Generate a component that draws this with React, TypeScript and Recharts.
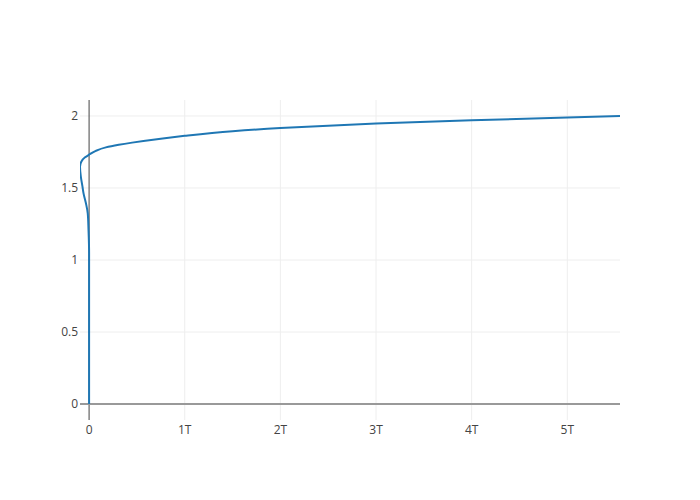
import React from 'react';
import { LineChart, Line, XAxis, YAxis, ReferenceLine } from 'recharts';

// curve points, in path order (x in trillions); y rises along the whole path
const xValues = [
  0, 0, 0, 0, -0.006, -0.014, -0.033, -0.058, -0.069, -0.086, -0.095, -0.08,
  -0.042, 0, 0.07, 0.175, 0.31, 0.45, 0.77, 1.0, 1.5, 2.0, 3.0, 4.0, 5.0,
  5.551,
];
const yValues = [
  0, 0.4, 0.8, 1.05, 1.208, 1.324, 1.394, 1.463, 1.509, 1.578, 1.648, 1.684,
  1.713, 1.731, 1.758, 1.782, 1.8, 1.815, 1.844, 1.862, 1.894, 1.916, 1.947,
  1.97, 1.99, 2.0,
];
const xTicks = [0, 1, 2, 3, 4, 5];
const yTicks = [0, 0.5, 1, 1.5, 2];

const data = xValues.map((x, i) => ({ x, y: yValues[i] }));

const tickStyle = { fill: '#444', fontSize: 12, fontFamily: '"Open Sans", sans-serif' };

const App: React.FC = () => {
  return (
    <div style={{ position: 'absolute', top: 0, left: 0, width: 700, height: 500, background: '#fff' }}>
      <LineChart
        width={700}
        height={500}
        data={data}
        margin={{ top: 100, right: 80, bottom: 0, left: 0 }}
      >
        <XAxis
          dataKey="x"
          type="number"
          domain={[-0.095, 5.551]}
          ticks={xTicks}
          tickFormatter={(v: number) => (v === 0 ? '0' : `${v}T`)}
          axisLine={false}
          tickLine={false}
          tickSize={0}
          tickMargin={5}
          height={80}
          tick={tickStyle}
          allowDataOverflow
        />
        <YAxis
          dataKey="y"
          type="number"
          domain={[-0.111, 2.111]}
          ticks={yTicks}
          axisLine={false}
          tickLine={false}
          tickSize={0}
          tickMargin={2}
          width={80}
          tick={tickStyle}
          allowDataOverflow
        />
        {/* grid */}
        {xTicks.filter((t) => t !== 0).map((t) => (
          <ReferenceLine key={`gx${t}`} x={t} stroke="#eee" strokeWidth={1} />
        ))}
        {yTicks.filter((t) => t !== 0).map((t) => (
          <ReferenceLine key={`gy${t}`} y={t} stroke="#eee" strokeWidth={1} />
        ))}
        {/* zero lines */}
        <ReferenceLine x={0} stroke="#444" strokeWidth={1} />
        <ReferenceLine y={0} stroke="#999" strokeWidth={2} />
        <Line
          type="monotoneY"
          dataKey="y"
          stroke="#1f77b4"
          strokeWidth={2}
          dot={false}
          isAnimationActive={false}
        />
      </LineChart>
    </div>
  );
};

export default App;
